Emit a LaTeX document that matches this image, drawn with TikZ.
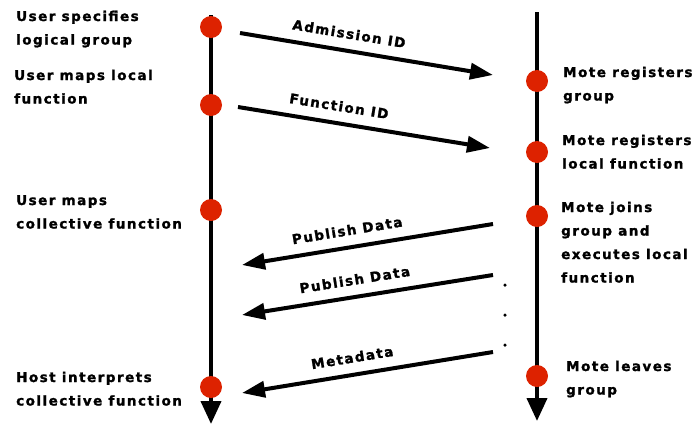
\documentclass[tikz,border=0pt]{standalone}
\usepackage{fontspec}
\newfontfamily\heavy{DejaVu Sans Bold}[LetterSpace=11, FakeBold=1.5]
\usetikzlibrary{arrows.meta}
\definecolor{eventred}{HTML}{DD2200}
\begin{document}
\begin{tikzpicture}[x=1pt,y=-1pt,
  lifeline/.style={line width=4pt, -{Triangle[length=23pt,width=20pt]}},
  msgright/.style={line width=4pt, -{Triangle[length=23pt,width=16pt]}},
  msgleft/.style={line width=4pt, {Triangle[length=23pt,width=16pt]}-},
  event/.style={circle, fill=eventred, minimum size=22pt, inner sep=0pt},
  % anchored on the baseline of the last line
  note/.style={anchor=base west, align=left, inner sep=0pt,
    font=\heavy\fontsize{13.5}{23.5}\selectfont},
  msglabel/.style={sloped, above=10pt, inner sep=0pt,
    font=\heavy\fontsize{13.5}{16}\selectfont},
  waitdot/.style={circle, fill=black, minimum size=3.5pt, inner sep=0pt}]

% canvas
\useasboundingbox (0,0) rectangle (694,424);

% lifelines
\coordinate (usertop) at (211,15);
\coordinate (userbot) at (211,424);
\coordinate (motetop) at (537,12);
\coordinate (motebot) at (537,421);
\draw[lifeline] (usertop) -- (userbot);
\draw[lifeline] (motetop) -- (motebot);

% events on the user/host side
\node[event] (u1) at (211,27) {};
\node[event] (u2) at (211,105) {};
\node[event] (u3) at (211,210) {};
\node[event] (u4) at (211,387) {};

% events on the mote side
\node[event] (m1) at (537,81) {};
\node[event] (m2) at (537,152) {};
\node[event] (m3) at (537,216) {};
\node[event] (m4) at (537,376) {};

% messages
\coordinate (a1s) at (240,33);  \coordinate (a1e) at (493,75);
\coordinate (a2s) at (238,107); \coordinate (a2e) at (490,148);
\coordinate (a3s) at (493,224); \coordinate (a3e) at (242,265);
\coordinate (a4s) at (493,275); \coordinate (a4e) at (242,315);
\coordinate (a5s) at (493,352); \coordinate (a5e) at (242,393);

\draw[msgright] (a1s) -- node[msglabel, pos=0.42] {Admission ID} (a1e);
\draw[msgright] (a2s) -- node[msglabel, pos=0.39] {Function ID} (a2e);
\draw[msgleft] (a3e) -- node[msglabel, pos=0.43] {Publish Data} (a3s);
\draw[msgleft] (a4e) -- node[msglabel, pos=0.46] {Publish Data} (a4s);
\draw[msgleft] (a5e) -- node[msglabel, pos=0.45] {Metadata} (a5s);

% repeated publications
\node[waitdot] (d1) at (505,285) {};
\node[waitdot] (d2) at (505,315) {};
\node[waitdot] (d3) at (505,345) {};

% user/host annotations
\node[note] (t1) at (16,44.5) {User specifies\\logical group};
\node[note] (t2) at (14,103.5) {User maps local\\function};
\node[note] (t3) at (16,228.5) {User maps\\collective function};
\node[note] (t4) at (16,405.5) {Host interprets\\collective function};

% mote annotations
\node[note] (s1) at (563,100.5) {Mote registers\\group};
\node[note] (s2) at (562,168.5) {Mote registers\\local function};
\node[note] (s3) at (561,282.5) {Mote joins\\group and\\executes local\\function};
\node[note] (s4) at (566,394.5) {Mote leaves\\group};
\end{tikzpicture}
\end{document}
